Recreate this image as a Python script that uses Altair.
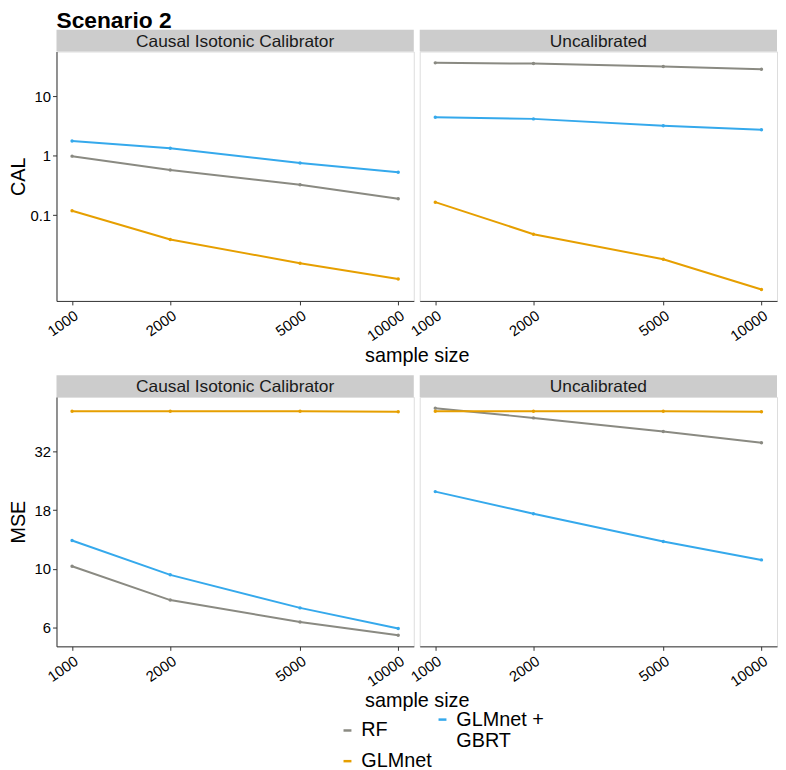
import altair as alt
import pandas as pd

# ---------------- data ----------------
sample_sizes = [1000, 2000, 5000, 10000]
methods = ["Causal Isotonic Calibrator", "Uncalibrated"]
legend_order = ["RF", "GLMnet", "GLMnet + GBRT"]
legend_colors = ["#8A8A82", "#E69F00", "#35A9EC"]

# CAL
cal_iso_rf = [0.985, 0.575, 0.324, 0.189]
cal_iso_glmnet = [0.118, 0.0388, 0.0154, 0.00835]
cal_iso_gbrt = [1.78, 1.34, 0.753, 0.527]
cal_unc_rf = [36.9, 35.9, 32.0, 28.8]
cal_unc_glmnet = [0.165, 0.0475, 0.018, 0.00554]
cal_unc_gbrt = [4.47, 4.19, 3.2, 2.74]

# MSE
mse_iso_rf = [10.66, 7.69, 6.22, 5.48]
mse_iso_glmnet = [47.6, 47.6, 47.6, 47.3]
mse_iso_gbrt = [13.67, 9.81, 7.13, 5.84]
mse_unc_rf = [49.0, 44.6, 39.1, 35.08]
mse_unc_glmnet = [47.6, 47.6, 47.6, 47.3]
mse_unc_gbrt = [21.9, 17.7, 13.54, 11.33]

cal_ticks = [0.1, 1, 10]
mse_ticks = [5.9, 10.4, 18.3, 32.2]
cal_domain = [0.00356, 57.3]
mse_domain = [4.92, 54.6]
x_domain = [896, 11160]

series = [
    ("CAL", methods[0], "RF", cal_iso_rf),
    ("CAL", methods[0], "GLMnet", cal_iso_glmnet),
    ("CAL", methods[0], "GLMnet + GBRT", cal_iso_gbrt),
    ("CAL", methods[1], "RF", cal_unc_rf),
    ("CAL", methods[1], "GLMnet", cal_unc_glmnet),
    ("CAL", methods[1], "GLMnet + GBRT", cal_unc_gbrt),
    ("MSE", methods[0], "RF", mse_iso_rf),
    ("MSE", methods[0], "GLMnet", mse_iso_glmnet),
    ("MSE", methods[0], "GLMnet + GBRT", mse_iso_gbrt),
    ("MSE", methods[1], "RF", mse_unc_rf),
    ("MSE", methods[1], "GLMnet", mse_unc_glmnet),
    ("MSE", methods[1], "GLMnet + GBRT", mse_unc_gbrt),
]
rows = []
for metric, method, model, vals in series:
    for n, v in zip(sample_sizes, vals):
        rows.append({"metric": metric, "method": method, "model": model, "n": n, "value": v})
df = pd.DataFrame(rows)

# ---------------- styling ----------------
W, H, STRIP = 361, 252, 22
FONT = "Liberation Sans"

color = alt.Color(
    "model:N",
    scale=alt.Scale(domain=legend_order, range=legend_colors),
    legend=alt.Legend(
        title=None, orient="none", legendX=284, legendY=665, columns=2,
        symbolType="stroke", symbolSize=64, symbolStrokeWidth=2.5,
        labelFontSize=20, labelFont=FONT, labelColor="#000000", labelLimit=0,
        labelExpr="datum.label == 'GLMnet + GBRT' ? ['GLMnet +', 'GBRT'] : datum.label",
        columnPadding=0, rowPadding=-7, padding=0, labelOffset=4,
    ),
)


def panel(metric, method, ydomain, yticks, first, title_text=None):
    d = df[(df.metric == metric) & (df.method == method)]
    xaxis_kw = dict(values=sample_sizes, format="d", labelAngle=325, labelAlign="right",
                    labelBaseline="top", labelFontSize=15, labelFont=FONT, labelColor="#000000",
                    labelPadding=3, tickSize=4, grid=False, domainColor="#333333",
                    tickColor="#333333", labelOverlap=False, labelFlush=False)
    if first:
        xaxis_kw.update(title="sample size", titleX=364, titleY=55, titleFontSize=20,
                        titleFont=FONT, titleFontWeight="normal", titleBaseline="middle",
                        titleAlign="center", titleColor="#000000")
    else:
        xaxis_kw.update(title=None)
    xenc = alt.X("n:Q", scale=alt.Scale(type="log", domain=x_domain, nice=False),
                 axis=alt.Axis(**xaxis_kw))
    if first:
        if metric == "CAL":
            lab = "format(datum.value, '~g')"
        else:
            lab = "format(datum.value, '.0f')"
        yaxis = alt.Axis(values=yticks, labelExpr=lab, title=metric, labelFontSize=15,
                         labelFont=FONT, labelColor="#000000", labelPadding=2, tickSize=4,
                         grid=False, domainColor="#333333", tickColor="#333333",
                         titleFontSize=20, titleFont=FONT, titleFontWeight="normal",
                         titleColor="#000000", titleX=-38, titleY=H / 2, titleAlign="center",
                         titleBaseline="middle", titleAngle=270, labelOverlap=False)
    else:
        yaxis = None
    yenc = alt.Y("value:Q", scale=alt.Scale(type="log", domain=ydomain, nice=False), axis=yaxis)

    base = alt.Chart(d)
    lines = base.mark_line(strokeWidth=2).encode(
        x=xenc, y=yenc, color=color, detail="model:N", order="n:Q")
    pts = base.mark_circle(size=12, opacity=1).encode(x=xenc, y=yenc, color=color)

    strip_df = pd.DataFrame({"label": [method]})
    strip_bg = alt.Chart(strip_df).mark_rect(color="#CCCCCC").encode(
        x=alt.value(0), x2=alt.value(W), y=alt.value(-STRIP), y2=alt.value(0))
    strip_tx = alt.Chart(strip_df).mark_text(
        font=FONT, fontSize=17.5, color="#1A1A1A", baseline="middle", align="center").encode(
        x=alt.value(W / 2), y=alt.value(-STRIP / 2 + 1), text="label:N")
    layers = [strip_bg, strip_tx, lines, pts]
    if title_text is not None:
        t_df = pd.DataFrame({"t": [title_text]})
        layers.append(alt.Chart(t_df).mark_text(
            font=FONT, fontSize=23, fontWeight="bold", color="#000000", align="left",
            baseline="alphabetic").encode(x=alt.value(0), y=alt.value(-24), text="t:N"))
    return alt.layer(*layers).properties(width=W, height=H)


chart = alt.concat(
    panel("CAL", methods[0], cal_domain, cal_ticks, True, "Scenario 2"),
    panel("CAL", methods[1], cal_domain, cal_ticks, False),
    panel("MSE", methods[0], mse_domain, mse_ticks, True),
    panel("MSE", methods[1], mse_domain, mse_ticks, False),
    columns=2, spacing={"row": 97, "column": 6}, bounds="flush",
).resolve_scale(y="independent").properties(
    padding={"left": 0, "top": -3, "right": 0, "bottom": 0}
).configure_view(stroke="#DEDEDE", strokeWidth=1).configure(background="#FFFFFF")

chart.save("out.html", embed_options={"renderer": "svg", "actions": False})
